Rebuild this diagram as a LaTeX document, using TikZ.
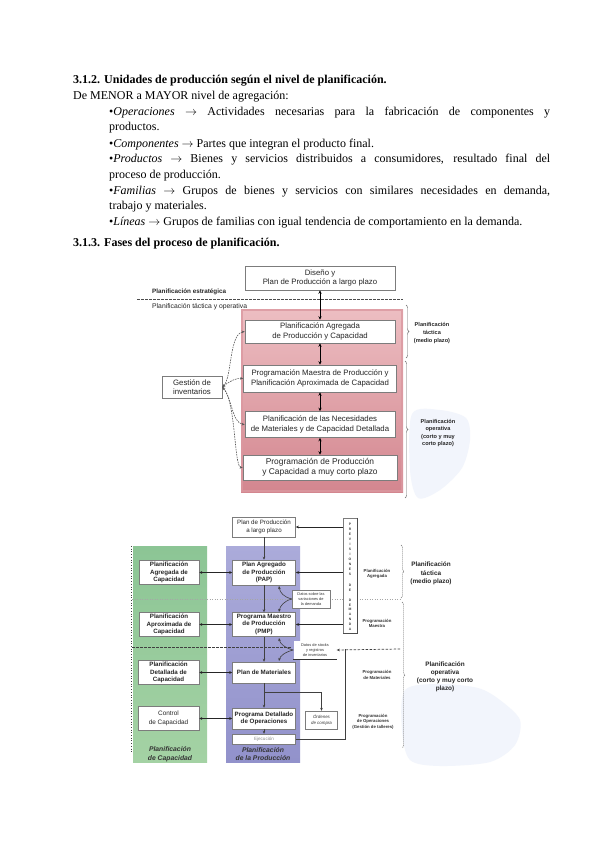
\documentclass[tikz,border=0pt]{standalone}
\usepackage{fontspec}
\setmainfont{Liberation Serif}
\newfontfamily\arialf{Liberation Sans}
\usetikzlibrary{arrows.meta,shadows,decorations.pathreplacing,calc}
\definecolor{boxgray}{HTML}{7C7C7C}
\definecolor{pinkT}{HTML}{EDBEC2}
\definecolor{pinkM}{HTML}{F5DADB}
\definecolor{pinkB}{HTML}{D3868F}
\definecolor{pinkE}{HTML}{DB98A0}
\definecolor{greenT}{HTML}{8CC595}
\definecolor{greenM}{HTML}{CDE6CD}
\definecolor{greenB}{HTML}{A4D2A4}
\definecolor{purpT}{HTML}{ABABDA}
\definecolor{purpM}{HTML}{CBCBEA}
\definecolor{purpB}{HTML}{9292CB}
\definecolor{blobblue}{HTML}{EEF2FB}
\begin{document}
\begin{tikzpicture}[x=1pt,y=-1pt,
  bodytext/.style={anchor=base west,inner sep=0pt,font=\fontsize{12}{14}\selectfont},
  headtext/.style={anchor=base west,inner sep=0pt,font=\bfseries\fontsize{12}{14}\selectfont},
  shad/.style={drop shadow={shadow xshift=0.8pt,shadow yshift=-0.8pt,opacity=0.45}},
  dabox/.style={draw=boxgray,fill=white,line width=0.6pt,inner sep=0pt,align=center,
    font=\arialf\fontsize{7.8}{9.2}\selectfont,text=black!85,shad},
  dbbox/.style={draw=boxgray,fill=white,line width=0.5pt,inner sep=0pt,align=center,
    font=\arialf\bfseries\fontsize{6.2}{7.6}\selectfont,text=black!85,shad},
  tinybox/.style={draw=boxgray,fill=white,line width=0.4pt,inner sep=0pt,align=center,
    font=\arialf\fontsize{3.9}{5}\selectfont,text=black!80},
  sidelab/.style={inner sep=0pt,align=center,font=\arialf\bfseries\fontsize{5.6}{7.6}\selectfont,text=black!85},
  tinylab/.style={inner sep=0pt,align=center,font=\arialf\bfseries\fontsize{4.3}{5.6}\selectfont,text=black!80},
  collab/.style={inner sep=0pt,align=center,font=\arialf\bfseries\itshape\fontsize{6.8}{8.6}\selectfont,text=black!80},
  prevl/.style={inner sep=0pt,font=\arialf\bfseries\fontsize{3.4}{4}\selectfont,text=black!75},
  biarrow/.style={{Stealth[length=3.5pt,width=3.2pt]}-{Stealth[length=3.5pt,width=3.2pt]},line width=0.9pt,black},
  biarrowb/.style={{Stealth[length=3pt,width=2.8pt]}-{Stealth[length=3pt,width=2.8pt]},line width=0.8pt,black!85},
  onearrow/.style={-{Stealth[length=3pt,width=2.6pt]},line width=0.5pt,black!75},
  thickarrow/.style={-{Stealth[length=3.2pt,width=2.8pt]},line width=0.9pt,black!85},
  dasharrow/.style={{Stealth[length=3pt,width=2.6pt]}-{Stealth[length=3pt,width=2.6pt]},dash pattern=on 1.6pt off 1pt,line width=0.6pt,black!65},
  bracestyle/.style={decorate,decoration={brace,amplitude=3pt},line width=0.45pt,black!60},
  dbrace/.style={decorate,decoration={brace,amplitude=3pt},line width=0.5pt,black!55,dash pattern=on 1.2pt off 0.8pt}
]
\useasboundingbox[fill=white] (0,0) rectangle (600,848);

% ---------------- text ----------------
\node[headtext] (h1) at (73,84) {3.1.2. Unidades de producción según el nivel de planificación.};
\node[bodytext] (t0) at (73,100) {De MENOR a MAYOR nivel de agregación:};
\node[bodytext] (t1) at (109,115.5) {\makebox[441pt][s]{•\textit{Operaciones} $\rightarrow$ Actividades necesarias para la fabricación de componentes y}};
\node[bodytext] (t2) at (109,131) {productos.};
\node[bodytext] (t3) at (109,147) {•\textit{Componentes} $\rightarrow$ Partes que integran el producto final.};
\node[bodytext] (t4) at (109,162.5) {\makebox[441pt][s]{•\textit{Productos} $\rightarrow$ Bienes y servicios distribuidos a consumidores, resultado final del}};
\node[bodytext] (t5) at (109,178) {proceso de producción.};
\node[bodytext] (t6) at (109,194) {\makebox[441pt][s]{•\textit{Familias} $\rightarrow$ Grupos de bienes y servicios con similares necesidades en demanda,}};
\node[bodytext] (t7) at (109,209.5) {trabajo y materiales.};
\node[bodytext] (t8) at (109,225) {•\textit{Líneas} $\rightarrow$ Grupos de familias con igual tendencia de comportamiento en la demanda.};
\node[headtext] (h2) at (73,246) {3.1.3. Fases del proceso de planificación.};

% ---------------- diagram 1 ----------------
\fill[blobblue,opacity=0.75] plot[smooth cycle] coordinates {(412,414) (440,410) (466,418) (470,440) (462,468) (440,490) (418,498) (410,470)};
\shade[top color=pinkT,middle color=pinkM,bottom color=pinkB] (241,309) rectangle (403,492);
\draw[pinkE,line width=1.6pt,opacity=0.8] (242,310) rectangle (402,491);
\draw[dash pattern=on 2.5pt off 1.5pt,line width=0.5pt,black!70] (137,299) -- (403,299);
\node[inner sep=0pt,anchor=west,font=\arialf\bfseries\fontsize{6.3}{7}\selectfont,text=black!85] (lestr) at (152,292) {Planificación estratégica};
\node[inner sep=0pt,anchor=west,font=\arialf\fontsize{6.8}{7}\selectfont,text=black!85] (ltact) at (152,307) {Planificación táctica y operativa};

\node[dabox,minimum width=150pt,minimum height=24pt] (dis) at (320,278) {Diseño y\\Plan de Producción a largo plazo};
\node[dabox,minimum width=150pt,minimum height=23pt] (pa) at (320,331.5) {Planificación Agregada\\de Producción y Capacidad};
\node[dabox,minimum width=153pt,minimum height=27pt] (pm) at (320,378.5) {Programación Maestra de Producción y\\Planificación Aproximada de Capacidad};
\node[dabox,minimum width=150pt,minimum height=26pt] (pn) at (320,424.5) {Planificación de las Necesidades\\de Materiales y de Capacidad Detallada};
\node[dabox,minimum width=154pt,minimum height=25pt,font=\arialf\fontsize{8.4}{10}\selectfont] (pp) at (320,467.5) {Programación de Producción\\y Capacidad a muy corto plazo};
\node[dabox,minimum width=60pt,minimum height=22pt,font=\arialf\fontsize{7.8}{9.4}\selectfont] (gest) at (192,387) {Gestión de\\inventarios};

\draw[biarrow] (dis.south) -- (pa.north);
\draw[biarrow] (pa.south) -- (pm.north);
\draw[biarrow] (pm.south) -- (pn.north);
\draw[biarrow] (pn.south) -- (pp.north);

\draw[dasharrow] (gest.east) .. controls (232,378) and (229,334) .. (pa.west);
\draw[dasharrow] (gest.east) .. controls (230,381) and (236,378) .. (pm.west);
\draw[dasharrow] (gest.east) .. controls (232,398) and (232,423) .. (pn.west);
\draw[dasharrow] (gest.east) .. controls (236,402) and (234,467) .. (pp.west);

\draw[bracestyle] (406,305) -- (406,358);
\draw[bracestyle] (405,361) -- (405,498);
\node[sidelab] (lb1) at (432,333) {Planificación\\táctica\\(medio plazo)};
\node[sidelab] (lb2) at (438,433) {Planificación\\operativa\\(corto y muy\\corto plazo)};

% ---------------- diagram 2 ----------------
\fill[blobblue,opacity=0.75] plot[smooth cycle] coordinates {(405,690) (440,684) (478,688) (500,700) (520,720) (515,745) (490,762) (440,766) (410,760) (402,730)};
\shade[top color=greenT,middle color=greenM,bottom color=greenB] (133,546) rectangle (207,762);
\shade[top color=purpT,middle color=purpM,bottom color=purpB] (226,546) rectangle (300,762);
\draw[dotted,line width=0.7pt,black!75] (131,546) -- (131,752);
\draw[dotted,line width=0.5pt,black!35] (132,599) -- (400,599);
\draw[dash pattern=on 2.5pt off 1.5pt,line width=0.7pt,black!75] (132,647) -- (291,647);

\node[dbbox,minimum width=63pt,minimum height=20pt,font=\arialf\fontsize{6.2}{7.8}\selectfont] (lp) at (264,527) {Plan de Producción\\a largo plazo};
\node[draw=boxgray,fill=white,line width=0.5pt,inner sep=0pt,minimum width=14pt,minimum height=115pt,shad] (prev) at (350,575.5) {};
\draw[line width=0.8pt,black!70] (prev.north east) -- (prev.south east) -- (prev.south west);
\foreach \l [count=\i] in {P,R,E,V,I,S,I,O,N,E,S}
  \node[prevl] (pv\i) at (350,{524+(\i-1)*5}) {\l};
\node[prevl] (pd1) at (350,585) {D};
\node[prevl] (pd2) at (350,590) {E};
\foreach \l [count=\i] in {D,E,M,A,N,D,A}
  \node[prevl] (pm\i) at (350,{600+(\i-1)*4.9}) {\l};

\node[dbbox,minimum width=60pt,minimum height=24pt] (g1) at (169,572.5) {Planificación\\Agregada de\\Capacidad};
\node[dbbox,minimum width=60pt,minimum height=24pt] (g2) at (169,624.5) {Planificación\\Aproximada de\\Capacidad};
\node[dbbox,minimum width=61pt,minimum height=24pt] (g3) at (168.5,672.5) {Planificación\\Detallada de\\Capacidad};
\node[dbbox,minimum width=61pt,minimum height=24pt,font=\arialf\fontsize{6.4}{8.4}\selectfont] (g4) at (168.5,718.5) {Control\\de Capacidad};

\node[dbbox,minimum width=63pt,minimum height=25pt] (p1) at (264,572.5) {Plan Agregado\\de Producción\\(PAP)};
\node[dbbox,minimum width=63pt,minimum height=24pt] (p2) at (264,624.5) {Programa Maestro\\de Producción\\(PMP)};
\node[dbbox,minimum width=63pt,minimum height=21pt] (p3) at (264,672.5) {Plan de Materiales};
\node[dbbox,minimum width=63pt,minimum height=21pt] (p4) at (264,718.5) {Programa Detallado\\de Operaciones};
\node[dbbox,minimum width=63pt,minimum height=10pt,font=\arialf\fontsize{4.6}{5}\selectfont,text=black!45] (p5) at (264,739) {Ejecución};

\node[tinybox,minimum width=38pt,minimum height=18pt] (dv) at (311,599) {Datos sobre las\\variaciones de\\la demanda};
\node[tinybox,minimum width=43pt,minimum height=18pt,draw=none] (ds) at (315,650) {Datos de stocks\\y registros\\de inventarios};
\draw[line width=0.9pt,black!80] (ds.south west) -- (ds.south east);
\node[tinybox,minimum width=32pt,minimum height=18pt,font=\arialf\itshape\fontsize{4.4}{5.6}\selectfont,shad] (oc) at (321.5,720) {Órdenes\\de compra};

\node[collab] (cl1) at (170,754) {Planificación\\de Capacidad};
\node[collab] (cl2) at (263,754) {Planificación\\de la Producción};

\draw[biarrowb] (g1.east) -- (p1.west);
\draw[biarrowb] (g2.east) -- (p2.west);
\draw[biarrowb] (g3.east) -- (p3.west);
\draw[biarrowb] (g4.east) -- (p4.west);

\draw[onearrow] (lp.south) -- (p1.north);
\draw[onearrow] (p1.south) -- (p2.north);
\draw[onearrow] (p2.south) -- (p3.north);
\draw[onearrow] (p3.south) -- (p4.north);
\draw[onearrow] (p4.south) -- (p5.north);
\coordinate (br) at (264,692);
\draw[onearrow] (br) -| (oc.north);

\draw[thickarrow] (prev.west |- lp.east) -- (lp.east);
\draw[thickarrow] (prev.west |- p1.east) -- (p1.east);
\draw[thickarrow] (prev.west |- p2.east) -- (p2.east);

\coordinate (a1) at (279,586);
\coordinate (a2) at (279,612);
\coordinate (a3) at (279,638);
\coordinate (a4) at (279,661);
\draw[onearrow,line width=0.6pt] (dv.west) .. controls (284,597) and (280,593) .. (a1);
\draw[onearrow,line width=0.6pt] (dv.west) .. controls (284,601) and (280,606) .. (a2);
\draw[onearrow,line width=0.6pt] (ds.west) .. controls (285,648) and (280,644) .. (a3);
\draw[onearrow,line width=0.6pt] (ds.west) .. controls (285,652) and (280,656) .. (a4);

\coordinate (er) at (345,739);
\coordinate (eu) at (345,649);
\draw[line width=0.6pt,black!75] (p5.east) -- (er) -- (eu);
\coordinate (dr) at (400,649);
\draw[-{Stealth[length=3pt,width=2.6pt]},dash pattern=on 2.5pt off 1.5pt,line width=0.7pt,black!75] (dr) -- (ds.east);

\node[tinylab] (r1) at (377,574) {Planificación\\Agregada};
\node[tinylab] (r2) at (377,623.5) {Programación\\Maestra};
\node[tinylab] (r3) at (377,675) {Programación\\de Materiales};
\node[tinylab] (r4) at (373,721.5) {Programación\\de Operaciones\\(Gestión de talleres)};

\draw[dbrace] (401,545) -- (401,598);
\draw[dbrace] (402,602) -- (402,748);
\node[sidelab,font=\arialf\bfseries\fontsize{6.4}{8.4}\selectfont] (rb1) at (431,573.5) {Planificación\\táctica\\(medio plazo)};
\node[sidelab,font=\arialf\bfseries\fontsize{6.4}{8}\selectfont] (rb2) at (445,676.5) {Planificación\\operativa\\(corto y muy corto\\plazo)};
\end{tikzpicture}
\end{document}
